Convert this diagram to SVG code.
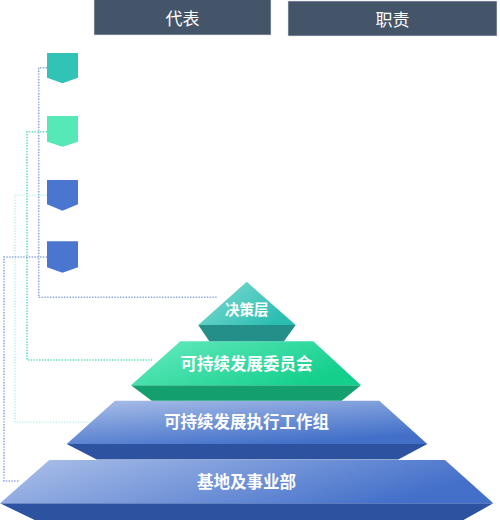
<svg xmlns="http://www.w3.org/2000/svg" width="500" height="520" viewBox="0 0 500 520">
<defs>
<linearGradient id="g1" x1="0" y1="0" x2="1" y2="0.6"><stop offset="0" stop-color="#86DDD4"/><stop offset="1" stop-color="#2BBDB1"/></linearGradient>
<linearGradient id="g2" x1="0" y1="0" x2="1" y2="0.5"><stop offset="0" stop-color="#68EBC0"/><stop offset="1" stop-color="#14CF8C"/></linearGradient>
<linearGradient id="g3" x1="0" y1="0" x2="0.6" y2="1"><stop offset="0" stop-color="#AABFE8"/><stop offset="1" stop-color="#4270C9"/></linearGradient>
<linearGradient id="g4" x1="0" y1="0" x2="1" y2="0.3"><stop offset="0" stop-color="#AEC2EA"/><stop offset="1" stop-color="#4470CA"/></linearGradient>
</defs>
<style>
.hdr{fill:#445469;stroke:#dfe3ea;stroke-width:0.6}
.ht{font-family:"Noto Sans CJK SC","Noto Sans",sans-serif;font-size:17px;fill:#ffffff;text-anchor:middle;dominant-baseline:central}
.pt{font-family:"Noto Sans CJK SC","Noto Sans",sans-serif;font-size:16.5px;font-weight:bold;fill:#ffffff;text-anchor:middle;dominant-baseline:central}
.dot{fill:none;stroke-width:1.6;stroke-dasharray:1.4 1.4}
</style>
<g id="header-rep"><rect class="hdr" x="94" y="-1" width="177" height="36"/><text class="ht" x="182.5" y="17">代表</text></g>
<g id="header-duty"><rect class="hdr" x="288" y="1" width="209" height="35"/><text class="ht" x="392.5" y="18">职责</text></g>
<g id="connectors">
<polyline class="dot" stroke="#8EA6E6" points="47,67.7 38.7,67.7 38.7,297.3 217,297.3"/>
<polyline class="dot" stroke="#5BE3B2" points="47,131.7 27,131.7 27,360 152,360"/>
<polyline class="dot" stroke="#C6F2EE" points="47,195.3 15,195.3 15,422.3 92,422.3"/>
<polyline class="dot" stroke="#8EA6E6" points="47,257 4,257 4,481 20,481"/>
</g>
<g id="icon1"><polygon points="47,53 78,53 78,77.7 62.5,83.3 47,77.7" fill="#31C3B5"/></g>
<g id="icon2"><polygon points="47,116 78,116 78,141.7 62.5,146.7 47,141.7" fill="#56E8B7"/></g>
<g id="icon3"><polygon points="47,180 78,180 78,204.3 62.5,210.7 47,204.3" fill="#4A76CF"/></g>
<g id="icon4"><polygon points="47,241.3 78,241.3 78,267.3 62.5,272.7 47,267.3" fill="#4A76CF"/></g>
<g id="layer4">
<polygon points="0,503.3 493.3,503.3 461.7,521 36.7,521" fill="#2D52A0"/>
<polygon points="49.3,460 445,460 493.3,503.3 0,503.3" fill="url(#g4)"/>
<text class="pt" x="246.5" y="481">基地及事业部</text>
</g>
<g id="layer3">
<polygon points="66.7,444 427.3,444 398.3,459.5 96.7,459.5" fill="#2D52A0"/>
<polygon points="115,400.7 379.3,400.7 427.3,444 66.7,444" fill="url(#g3)"/>
<text class="pt" x="246.5" y="421">可持续发展执行工作组</text>
</g>
<g id="layer2">
<polygon points="131,385.3 361,385.3 341.7,400.7 151.7,400.7" fill="#13A06E"/>
<polygon points="180.3,341.3 313.3,341.3 361,385.3 131,385.3" fill="url(#g2)"/>
<text class="pt" x="246.5" y="363">可持续发展委员会</text>
</g>
<g id="layer1">
<polygon points="198.3,325 295.7,325 284,341.3 209.3,341.3" fill="#238F88"/>
<polygon points="246.7,281.7 295.7,325 198.3,325" fill="url(#g1)"/>
<text class="pt" x="246.7" y="308" style="font-size:14.5px">决策层</text>
</g>
</svg>
